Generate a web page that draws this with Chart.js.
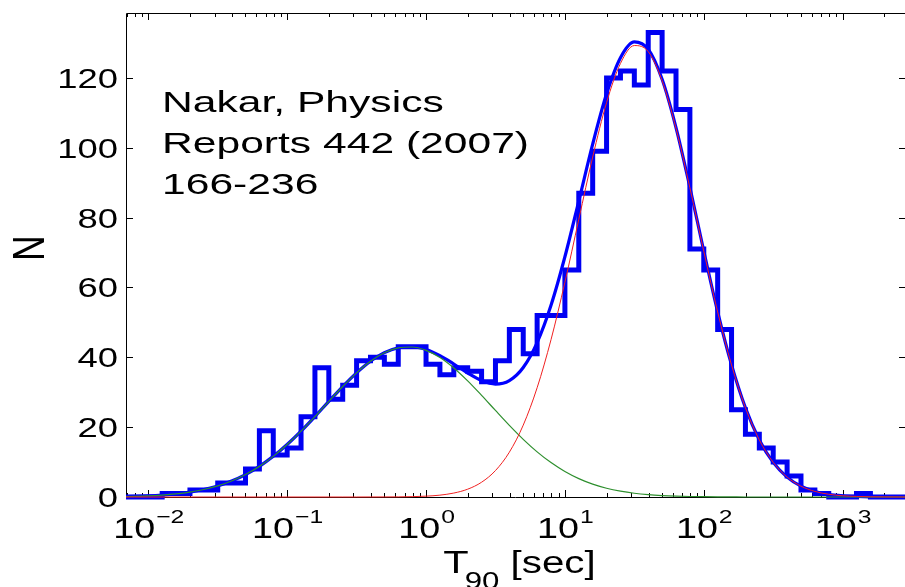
<!DOCTYPE html>
<html lang="en">
<head>
<meta charset="UTF-8">
<title>T90 distribution</title>
<script src="https://cdn.jsdelivr.net/npm/chart.js"></script>
<style>
  html, body { margin: 0; padding: 0; background: #fff; }
  canvas { display: block; }
</style>
</head>
<body>
<canvas id="t90Chart" width="905" height="587"></canvas>
<script>
// Histogram: log10 of each bin's left edge (bins are 0.1 dex wide) and the counts in it
const binStart = [-2.2, -2.1, -2.0, -1.9, -1.8, -1.7, -1.6, -1.5, -1.4, -1.3,
                  -1.2, -1.1, -1.0, -0.9, -0.8, -0.7, -0.6, -0.5, -0.4, -0.3,
                  -0.2, -0.1, 0.0, 0.1, 0.2, 0.3, 0.4, 0.5, 0.6, 0.7,
                  0.8, 0.9, 1.0, 1.1, 1.2, 1.3, 1.4, 1.5, 1.6, 1.7,
                  1.8, 1.9, 2.0, 2.1, 2.2, 2.3, 2.4, 2.5, 2.6, 2.7,
                  2.8, 2.9, 3.0, 3.1, 3.2, 3.3, 3.4];
const binWidth = 0.1;
const counts = [0, 0, 0, 1, 1, 2, 2, 4, 4, 8,
                19, 12, 14, 23, 37, 28, 32, 39, 40, 38,
                43, 43, 38, 35, 37, 36, 33, 39, 48, 41,
                52, 52, 65, 87, 99, 120, 122, 118, 133, 122,
                111, 71, 65, 48, 25, 18, 14, 10, 6, 2,
                1, 0, 0, 1, 0, 0, 0];

// Two-lognormal fit, sampled at log10(T90) = fitLog
const fitLog = [-2.2, -2.1, -2.0, -1.9, -1.8, -1.7, -1.6, -1.5, -1.4, -1.3,
                -1.2, -1.1, -1.0, -0.9, -0.8, -0.7, -0.6, -0.5, -0.4, -0.3,
                -0.2, -0.1, 0.0, 0.1, 0.2, 0.3, 0.4, 0.5, 0.6, 0.7,
                0.8, 0.9, 1.0, 1.1, 1.2, 1.3, 1.4, 1.5, 1.6, 1.7,
                1.8, 1.9, 2.0, 2.1, 2.2, 2.3, 2.4, 2.5, 2.6, 2.7,
                2.8, 2.9, 3.0, 3.1, 3.2, 3.3, 3.4, 3.5];
const shortFit = [0.11, 0.20, 0.33, 0.55, 0.89, 1.40, 2.14, 3.17, 4.58, 6.43,
                  8.77, 11.64, 15.03, 18.87, 23.05, 27.38, 31.64, 35.56, 38.86, 41.31,
                  42.71, 42.95, 42.00, 39.95, 36.96, 33.26, 29.11, 24.78, 20.52, 16.52,
                  12.93, 9.85, 7.30, 5.26, 3.68, 2.51, 1.67, 1.07, 0.67, 0.41,
                  0.24, 0.14, 0.08, 0.04, 0.02, 0, 0, 0, 0, 0,
                  0, 0, 0, 0, 0, 0, 0, 0];
const longFit = [0, 0, 0, 0, 0, 0, 0, 0, 0, 0,
                 0, 0, 0, 0, 0, 0, 0, 0, 0.01, 0.02,
                 0.04, 0.10, 0.24, 0.53, 1.13, 2.24, 4.23, 7.57, 12.83, 20.58,
                 31.29, 45.05, 61.49, 79.49, 97.35, 112.94, 124.15, 129.28, 127.55, 119.22,
                 105.56, 88.55, 70.37, 52.99, 37.80, 25.54, 16.35, 9.92, 5.70, 3.10,
                 1.60, 0.78, 0.36, 0.16, 0.06, 0.03, 0.01, 0];
const totalFit = [0.11, 0.20, 0.33, 0.55, 0.89, 1.40, 2.14, 3.17, 4.58, 6.43,
                  8.77, 11.64, 15.03, 18.87, 23.05, 27.38, 31.64, 35.56, 38.87, 41.33,
                  42.75, 43.05, 42.24, 40.48, 38.09, 35.50, 33.34, 32.35, 33.35, 37.10,
                  44.22, 54.90, 68.79, 84.75, 101.03, 115.45, 125.82, 130.35, 128.22, 119.63,
                  105.80, 88.69, 70.45, 53.03, 37.82, 25.54, 16.35, 9.92, 5.70, 3.10,
                  1.60, 0.78, 0.36, 0.16, 0.06, 0.03, 0.01, 0];

const yTicks = [0, 20, 40, 60, 80, 100, 120];
const xDecades = [-2, -1, 0, 1, 2, 3];
const noteLines = ['Nakar, Physics', 'Reports 442 (2007)', '166-236'];

const FONT = '"Liberation Sans", Arial, Helvetica, sans-serif';

// draws text widened by sx (the figure's lettering is horizontally stretched)
function wideText(ctx, text, x, y, size, sx, align) {
  ctx.save();
  ctx.font = size + 'px ' + FONT;
  const w = ctx.measureText(text).width * sx;
  let x0 = x;
  if (align === 'center') x0 = x - w / 2;
  else if (align === 'right') x0 = x - w;
  ctx.translate(x0, y);
  ctx.scale(sx, 1);
  ctx.textAlign = 'left';
  ctx.textBaseline = 'alphabetic';
  ctx.fillStyle = '#000';
  ctx.fillText(text, 0, 0);
  ctx.restore();
  return w;
}
function textWidth(ctx, text, size, sx) {
  ctx.save();
  ctx.font = size + 'px ' + FONT;
  const w = ctx.measureText(text).width * sx;
  ctx.restore();
  return w;
}

// MATLAB-style box: inward ticks on all sides, log minor ticks
const frame = {
  id: 'frame',
  beforeDatasetsDraw(chart) {
    const { ctx, chartArea: a, scales: { x, y } } = chart;
    ctx.save();
    ctx.strokeStyle = '#000';
    ctx.lineWidth = 1;
    ctx.beginPath();
    ctx.moveTo(a.left + 0.5, a.bottom + 0.5);
    ctx.lineTo(a.left + 0.5, a.top + 0.5);
    ctx.lineTo(a.right, a.top + 0.5);
    ctx.moveTo(a.left, a.bottom + 0.5);
    ctx.lineTo(a.right, a.bottom + 0.5);

    yTicks.forEach(v => {
      const py = Math.round(y.getPixelForValue(v)) + 0.5;
      ctx.moveTo(a.left, py); ctx.lineTo(a.left + 7, py);
      ctx.moveTo(a.right, py); ctx.lineTo(a.right - 6, py);
    });

    const lo = Math.floor(Math.log10(x.min));
    const hi = Math.ceil(Math.log10(x.max));
    for (let d = lo; d <= hi; d++) {
      for (let k = 1; k < 10; k++) {
        const v = k * Math.pow(10, d);
        if (v < x.min || v > x.max) continue;
        const px = Math.round(x.getPixelForValue(v)) + 0.5;
        const len = k === 1 ? 7 : 4;
        ctx.moveTo(px, a.bottom); ctx.lineTo(px, a.bottom - len);
        ctx.moveTo(px, a.top); ctx.lineTo(px, a.top + len);
      }
    }
    ctx.stroke();
    ctx.restore();
  },
  afterDraw(chart) {
    const { ctx, chartArea: a, scales: { x, y } } = chart;
    const SX = 1.3;

    // y tick labels
    yTicks.forEach(v => {
      const py = y.getPixelForValue(v);
      wideText(ctx, String(v), a.left - 8, py + 10, 28, SX, 'right');
    });

    // x tick labels: 10 with raised exponent
    xDecades.forEach(d => {
      const px = x.getPixelForValue(Math.pow(10, d));
      const exp = d < 0 ? '\u2212' + (-d) : String(d);
      const wb = textWidth(ctx, '10', 29, SX);
      const we = textWidth(ctx, exp, 19, SX);
      const x0 = px - (wb + we) / 2;
      wideText(ctx, '10', x0, a.bottom + 41, 29, SX, 'left');
      wideText(ctx, exp, x0 + wb + 1, a.bottom + 26, 19, SX, 'left');
    });

    // x title: T with subscript 90, then [sec]
    const wT = textWidth(ctx, 'T', 32, SX) - 4;
    const wSub = textWidth(ctx, '90', 24, SX);
    const wRest = textWidth(ctx, ' [sec]', 31, SX);
    let tx = (a.left + a.right) / 2 + 4 - (wT + wSub + wRest) / 2;
    wideText(ctx, 'T', tx, a.bottom + 76, 32, SX, 'left');
    tx += wT;
    wideText(ctx, '90', tx, a.bottom + 92, 24, SX, 'left');
    tx += wSub;
    wideText(ctx, ' [sec]', tx, a.bottom + 76, 31, SX, 'left');

    // y title
    ctx.save();
    ctx.translate(28, 248);
    ctx.scale(1.25, 1);
    ctx.rotate(-Math.PI / 2);
    ctx.font = '35px ' + FONT;
    ctx.textAlign = 'center';
    ctx.textBaseline = 'alphabetic';
    ctx.fillStyle = '#000';
    ctx.fillText('N', 0, 12.5);
    ctx.restore();

    // reference note
    noteLines.forEach((line, i) => {
      wideText(ctx, line, a.left + 36, a.top + 99 + i * 41, 30, 1.42, 'left');
    });
  }
};

const toX = l => Math.pow(10, l);
const histPoints = binStart.map((l, i) => ({ x: toX(l), y: counts[i] }));
histPoints.push({ x: toX(binStart[binStart.length - 1] + binWidth), y: 0 });
const curve = vals => fitLog.map((l, i) => ({ x: toX(l), y: vals[i] }));

const edgeClip = { left: 0, right: 0, top: 0, bottom: 4 };

new Chart(document.getElementById('t90Chart'), {
  type: 'line',
  data: {
    datasets: [
      {
        label: 'long',
        data: curve(longFit),
        borderColor: '#f02020',
        borderWidth: 1,
        pointRadius: 0,
        cubicInterpolationMode: 'monotone',
        clip: edgeClip,
        order: 1
      },
      {
        label: 'short',
        data: curve(shortFit),
        borderColor: '#2e8f2e',
        borderWidth: 1.2,
        pointRadius: 0,
        cubicInterpolationMode: 'monotone',
        clip: edgeClip,
        order: 2
      },
      {
        label: 'total',
        data: curve(totalFit),
        borderColor: '#0000ff',
        borderWidth: 3.2,
        pointRadius: 0,
        cubicInterpolationMode: 'monotone',
        clip: edgeClip,
        order: 3
      },
      {
        label: 'N',
        data: histPoints,
        stepped: 'before',
        borderColor: '#0000f2',
        borderWidth: 5,
        borderJoinStyle: 'miter',
        borderCapStyle: 'butt',
        pointRadius: 0,
        fill: false,
        clip: edgeClip,
        order: 4
      }
    ]
  },
  options: {
    responsive: false,
    devicePixelRatio: 1,
    animation: false,
    layout: { padding: { left: 126, top: 13, right: 0, bottom: 90 } },
    plugins: { legend: { display: false }, tooltip: { enabled: false } },
    scales: {
      x: { type: 'logarithmic', min: toX(-2.1605), max: toX(3.449), display: false },
      y: { min: 0, max: 138.6, display: false }
    }
  },
  plugins: [frame]
});
</script>
</body>
</html>
